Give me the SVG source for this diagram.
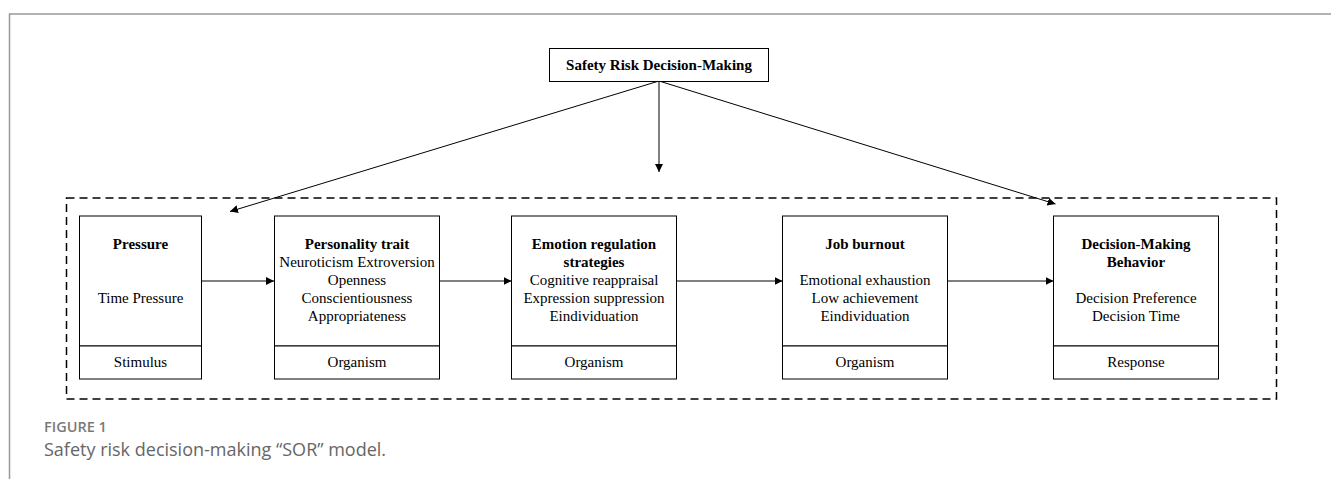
<svg xmlns="http://www.w3.org/2000/svg" width="1331" height="479" viewBox="0 0 1331 479">
<defs>
<marker id="ah" viewBox="0 0 10 10" refX="10" refY="5" markerWidth="8" markerHeight="8" markerUnits="userSpaceOnUse" orient="auto">
<path d="M0,0 L10,5 L0,10 z" fill="#000"/>
</marker>
<style>
.box{fill:#fff;stroke:#000;stroke-width:1}
.t{font-family:"Liberation Serif","Times New Roman",serif;font-size:15px;fill:#000;text-anchor:middle}
.b{font-weight:bold}
.c{stroke:#000;stroke-width:1;fill:none;marker-end:url(#ah)}
</style>
</defs>
<rect width="1331" height="479" fill="#fff"/>
<path d="M9.5,479 V14 H1331" fill="none" stroke="#999" stroke-width="1.5"/>
<rect x="66.5" y="198" width="1210" height="201" fill="none" stroke="#000" stroke-width="1.5" stroke-dasharray="8,5"/>

<g id="connectors">
<line class="c" x1="659" y1="81" x2="230" y2="211.5"/>
<line class="c" x1="659" y1="81" x2="659" y2="172"/>
<line class="c" x1="659" y1="81" x2="1055.5" y2="204"/>
<line class="c" x1="202" y1="281" x2="274" y2="281"/>
<line class="c" x1="439" y1="281" x2="511.5" y2="281"/>
<line class="c" x1="677" y1="281" x2="782.5" y2="281"/>
<line class="c" x1="948" y1="281" x2="1053.5" y2="281"/>
</g>

<g id="safety">
<rect class="box" x="549.5" y="48.5" width="219" height="33"/>
<text class="t b" x="659" y="69.5">Safety Risk Decision-Making</text>
</g>

<g id="pressure">
<rect class="box" x="79.5" y="216" width="122" height="130"/>
<rect class="box" x="79.5" y="346" width="122" height="33"/>
<text class="t b" x="140.5" y="249">Pressure</text>
<text class="t" x="140.5" y="303">Time Pressure</text>
<text class="t" x="140.5" y="367">Stimulus</text>
</g>

<g id="personality">
<rect class="box" x="274.5" y="216" width="165" height="130"/>
<rect class="box" x="274.5" y="346" width="165" height="33"/>
<text class="t b" x="357" y="249">Personality trait</text>
<text class="t" x="357" y="267">Neuroticism Extroversion</text>
<text class="t" x="357" y="285">Openness</text>
<text class="t" x="357" y="303">Conscientiousness</text>
<text class="t" x="357" y="321">Appropriateness</text>
<text class="t" x="357" y="367">Organism</text>
</g>

<g id="emotion">
<rect class="box" x="511.5" y="216" width="165" height="130"/>
<rect class="box" x="511.5" y="346" width="165" height="33"/>
<text class="t b" x="594" y="249">Emotion regulation</text>
<text class="t b" x="594" y="267">strategies</text>
<text class="t" x="594" y="285">Cognitive reappraisal</text>
<text class="t" x="594" y="303">Expression suppression</text>
<text class="t" x="594" y="321">Eindividuation</text>
<text class="t" x="594" y="367">Organism</text>
</g>

<g id="burnout">
<rect class="box" x="782.5" y="216" width="165" height="130"/>
<rect class="box" x="782.5" y="346" width="165" height="33"/>
<text class="t b" x="865" y="249">Job burnout</text>
<text class="t" x="865" y="285">Emotional exhaustion</text>
<text class="t" x="865" y="303">Low achievement</text>
<text class="t" x="865" y="321">Eindividuation</text>
<text class="t" x="865" y="367">Organism</text>
</g>

<g id="decision">
<rect class="box" x="1053.5" y="216" width="165" height="130"/>
<rect class="box" x="1053.5" y="346" width="165" height="33"/>
<text class="t b" x="1136" y="249">Decision-Making</text>
<text class="t b" x="1136" y="267">Behavior</text>
<text class="t" x="1136" y="303">Decision Preference</text>
<text class="t" x="1136" y="321">Decision Time</text>
<text class="t" x="1136" y="367">Response</text>
</g>

<text x="44" y="432" font-family="'Open Sans','Noto Sans',sans-serif" font-size="14.5" font-weight="600" fill="#7a7a7a">FIGURE 1</text>
<text x="44" y="456" font-family="'Open Sans','Noto Sans',sans-serif" font-size="18" fill="#666">Safety risk decision-making “SOR” model.</text>
</svg>
